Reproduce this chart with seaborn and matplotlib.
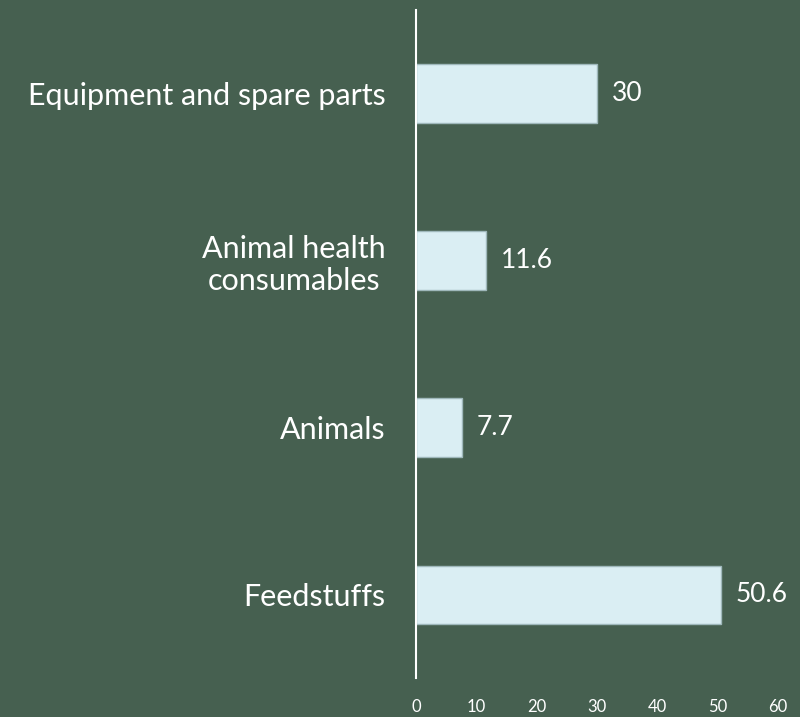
import pandas as pd
import matplotlib.pyplot as plt
import seaborn as sns

categories = ['Equipment and spare parts', 'Animal health\nconsumables', 'Animals', 'Feedstuffs']
values = [30, 11.6, 7.7, 50.6]
value_labels = ['30', '11.6', '7.7', '50.6']
x_ticks = [0, 10, 20, 30, 40, 50, 60]

df = pd.DataFrame({'category': categories, 'value': values})

bg = '#466050'
sns.set_style('white')
plt.rcParams['font.family'] = ['Lato', 'DejaVu Sans']

fig = plt.figure(figsize=(8, 7.17), dpi=100, facecolor=bg)
ax = fig.add_axes([0.52, 0.054, 0.4525, 0.932])
ax.set_facecolor(bg)

sns.barplot(data=df, x='value', y='category', orient='h', color='#daeef3',
            saturation=1, width=0.35, edgecolor='#9fb8bb', linewidth=1, ax=ax)

# value labels
for i, (v, lab) in enumerate(zip(values, value_labels)):
    ax.text(v + 2.4, i, lab, va='center', ha='left', color='white', fontsize=19)

ax.set_xlim(0, 60)
ax.set_ylim(3.5, -0.5)
ax.set_xticks(x_ticks)
ax.set_xticklabels([str(t) for t in x_ticks])
ax.tick_params(axis='x', length=0, pad=15, colors='white', labelsize=12)
ax.tick_params(axis='y', length=0, pad=22, colors='white', labelsize=22)
for lbl in ax.get_yticklabels():
    lbl.set_horizontalalignment('right')
    lbl.set_multialignment('center')
    lbl.set_linespacing(1.15)
ax.set_xlabel('')
ax.set_ylabel('')

for s in ['top', 'right', 'bottom']:
    ax.spines[s].set_visible(False)
ax.spines['left'].set_color('white')
ax.spines['left'].set_linewidth(1.5)

fig.savefig('out.png', dpi=100, facecolor=bg)
